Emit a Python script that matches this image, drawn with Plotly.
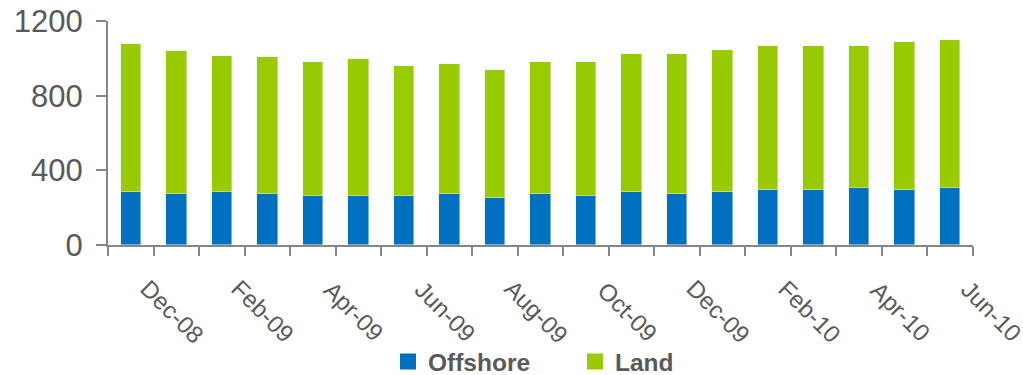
import plotly.graph_objects as go

# Monthly volumes, Nov-08 .. May-10
months = ["Nov-08", "Dec-08", "Jan-09", "Feb-09", "Mar-09", "Apr-09", "May-09",
          "Jun-09", "Jul-09", "Aug-09", "Sep-09", "Oct-09", "Nov-09", "Dec-09",
          "Jan-10", "Feb-10", "Mar-10", "Apr-10", "May-10"]
offshore = [284, 273, 284, 273, 262, 262, 262, 273, 252, 273,
            262, 284, 273, 284, 295, 295, 305, 295, 305]
land = [793, 766, 728, 734, 718, 734, 697, 697, 685, 707,
        718, 739, 750, 761, 771, 771, 761, 792, 793]

# Axis labels shown every second month (the last one sits past the final bar)
tick_labels = ["Dec-08", "Feb-09", "Apr-09", "Jun-09", "Aug-09",
               "Oct-09", "Dec-09", "Feb-10", "Apr-10", "Jun-10"]
tick_label_index = [1, 3, 5, 7, 9, 11, 13, 15, 17, 19]

y_ticks = [0, 400, 800, 1200]

BLUE = "#0070C0"
GREEN = "#99CC00"
TEXT = "#595959"
AXIS = "#868686"
FONT = "Liberation Sans, Arial, sans-serif"

n = len(months)
xs = list(range(n))

fig = go.Figure()
fig.add_trace(go.Bar(x=xs, y=offshore, name="Offshore", marker_color=BLUE,
                     width=0.45, showlegend=False))
fig.add_trace(go.Bar(x=xs, y=land, name="Land", marker_color=GREEN,
                     width=0.45, showlegend=False))

# Legend entries with larger square swatches
for name, color in [("Offshore", BLUE), ("Land", GREEN)]:
    fig.add_trace(go.Scatter(x=[None], y=[None], mode="markers", name=name,
                             marker=dict(symbol="square", size=16, color=color)))

# Rotated month labels
for lab, idx in zip(tick_labels, tick_label_index):
    fig.add_annotation(
        x=(idx + 0.5) / n, xref="paper", y=0, yref="paper",
        xshift=-4, yshift=-66, text=lab, textangle=45,
        showarrow=False, xanchor="center", yanchor="middle",
        font=dict(family=FONT, size=24, color=TEXT),
    )

fig.update_layout(
    width=1023, height=375,
    margin=dict(l=108, r=50, t=21, b=130, autoexpand=False),
    paper_bgcolor="white", plot_bgcolor="white",
    barmode="stack", bargap=0,
    showlegend=True,
    legend=dict(orientation="h", x=0.3237, y=-0.42, xanchor="left", yanchor="top",
                traceorder="normal",
                font=dict(family=FONT, size=24.5, color=TEXT, weight="bold"),
                entrywidth=142, entrywidthmode="pixels",
                bgcolor="rgba(0,0,0,0)", itemsizing="trace"),
    xaxis=dict(range=[-0.5, n - 0.5], showgrid=False, zeroline=False,
               showline=True, linecolor=AXIS, linewidth=2,
               tickmode="array", tickvals=[i - 0.5 for i in range(n + 1)],
               ticktext=[""] * (n + 1), ticks="outside", ticklen=9,
               tickwidth=2, tickcolor=AXIS),
    yaxis=dict(range=[0, 1200], showgrid=False, zeroline=False,
               showline=True, linecolor=AXIS, linewidth=2,
               tickmode="array", tickvals=y_ticks,
               ticktext=[str(v) for v in y_ticks],
               ticks="outside", ticklen=10, tickwidth=2, tickcolor=AXIS,
               ticklabelstandoff=7,
               tickfont=dict(family=FONT, size=31, color=TEXT)),
)

fig.write_html("out.html")
